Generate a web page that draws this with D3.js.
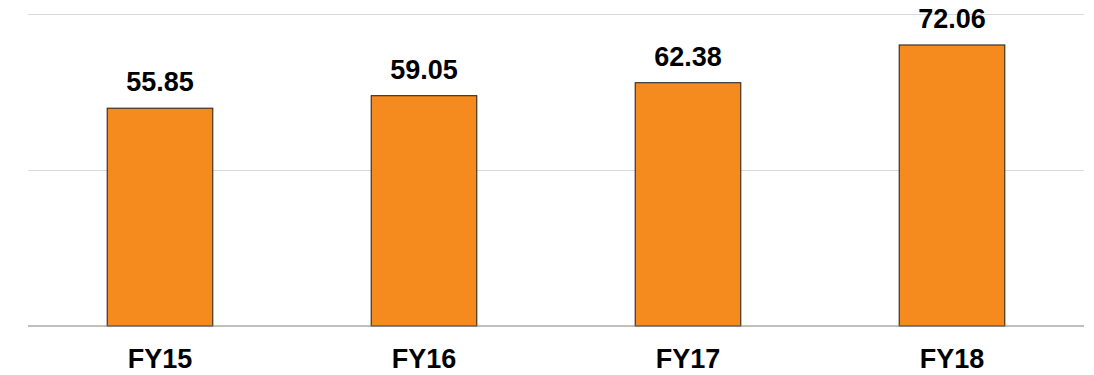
<!DOCTYPE html>
<html>
<head>
<meta charset="utf-8">
<script src="https://cdn.jsdelivr.net/npm/d3@7"></script>
<style>
  html, body { margin: 0; padding: 0; background: #ffffff; }
  svg { display: block; }
</style>
</head>
<body>
<svg id="chart" width="1094" height="375"></svg>
<script>
// Fiscal years and their values
const categories = ["FY15", "FY16", "FY17", "FY18"];
const values = [55.85, 59.05, 62.38, 72.06];
const yTicks = [0, 40, 80];

const svg = d3.select("#chart");
const plotLeft = 28, plotRight = 1084, plotTop = 14, plotBottom = 326;

const x = d3.scaleBand()
  .domain(categories)
  .range([plotLeft, plotRight])
  .paddingInner(0.6)
  .paddingOuter(0.3);

const y = d3.scaleLinear()
  .domain([0, 80])
  .range([plotBottom, plotTop]);

// Horizontal gridlines
svg.append("g")
  .selectAll("line")
  .data(yTicks.filter(d => d !== 0))
  .join("line")
  .attr("x1", plotLeft)
  .attr("x2", plotRight)
  .attr("y1", d => Math.round(y(d)) + 0.5)
  .attr("y2", d => Math.round(y(d)) + 0.5)
  .attr("stroke", "#d9d9d9")
  .attr("stroke-width", 1);

// Bars
svg.append("g")
  .selectAll("rect")
  .data(values)
  .join("rect")
  .attr("x", (d, i) => x(categories[i]))
  .attr("y", d => y(d))
  .attr("width", x.bandwidth())
  .attr("height", d => y(0) - y(d))
  .attr("fill", "#f58a1f")
  .attr("stroke", "#1a1a1a")
  .attr("stroke-width", 1);

// Baseline axis
svg.append("line")
  .attr("x1", plotLeft)
  .attr("x2", plotRight)
  .attr("y1", y(0))
  .attr("y2", y(0))
  .attr("stroke", "#808080")
  .attr("stroke-width", 1.2);

// Value labels
svg.append("g")
  .selectAll("text")
  .data(values)
  .join("text")
  .attr("x", (d, i) => x(categories[i]) + x.bandwidth() / 2)
  .attr("y", d => y(d) - 17)
  .attr("text-anchor", "middle")
  .attr("font-family", "Liberation Sans, Arial, sans-serif")
  .attr("font-weight", "bold")
  .attr("font-size", 27)
  .attr("fill", "#000")
  .text(d => d.toFixed(2));

// Category labels
svg.append("g")
  .selectAll("text")
  .data(categories)
  .join("text")
  .attr("x", d => x(d) + x.bandwidth() / 2)
  .attr("y", 368)
  .attr("text-anchor", "middle")
  .attr("font-family", "Liberation Sans, Arial, sans-serif")
  .attr("font-weight", "bold")
  .attr("font-size", 27)
  .attr("fill", "#000")
  .text(d => d);
</script>
</body>
</html>
